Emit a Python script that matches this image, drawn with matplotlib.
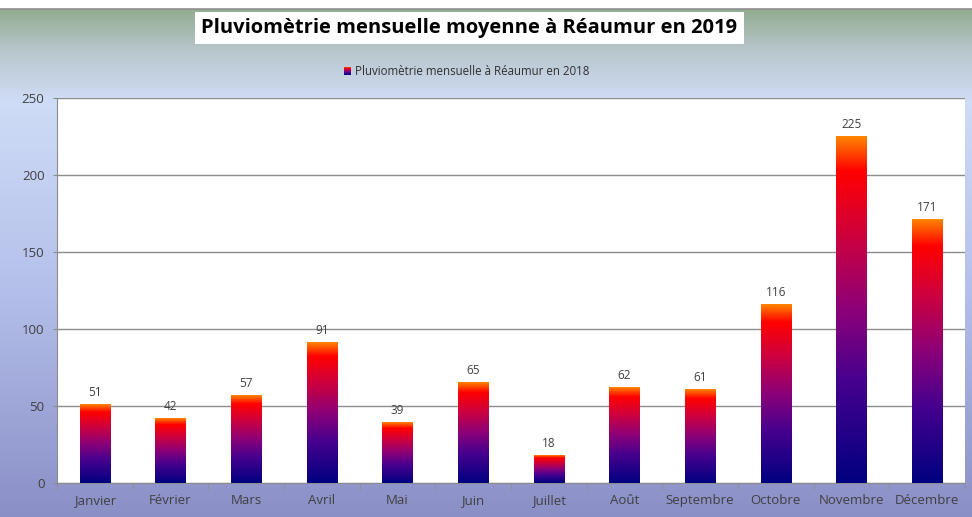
import matplotlib.pyplot as plt
import numpy as np
from matplotlib.colors import LinearSegmentedColormap

# --- Data (mm) ---
mois = ["Janvier", "Février", "Mars", "Avril", "Mai", "Juin", "Juillet",
        "Août", "Septembre", "Octobre", "Novembre", "Décembre"]
pluie = [51, 42, 57, 91, 39, 65, 18, 62, 61, 116, 225, 171]
yticks = [0, 50, 100, 150, 200, 250]

plt.rcParams["font.family"] = ["Open Sans", "DejaVu Sans"]

fig = plt.figure(figsize=(9.72, 5.17), dpi=100)
fig.patch.set_facecolor("white")

# background gradient (green-grey -> light blue -> lavender)
bg = fig.add_axes([0, 0, 1, 1 - 9 / 517], zorder=0)
bg_cmap = LinearSegmentedColormap.from_list(
    "bg", [(0.0, "#8a8fc6"), (0.45, "#b4c0ea"), (0.82, "#cfdcf6"),
           (0.92, "#b8c6cc"), (1.0, "#92ad90")])
bg.imshow(np.linspace(0, 1, 256).reshape(-1, 1), cmap=bg_cmap, aspect="auto",
          origin="lower", extent=(0, 1, 0, 1))
bg.set_axis_off()
fig.add_artist(plt.Line2D([0, 1], [1 - 9 / 517] * 2, color="#909090", lw=1.2))

ax = fig.add_axes([57 / 972, 1 - 483 / 517, 908 / 972, 385 / 517], zorder=1)
ax.set_facecolor("white")

x = np.arange(len(mois))
bars = ax.bar(x, pluie, width=0.4, facecolor="none", edgecolor="none", zorder=3)

bar_cmap = LinearSegmentedColormap.from_list(
    "bar", [(0.0, "#000080"), (0.3, "#48008e"), (0.5, "#8c0078"),
            (0.72, "#d0003c"), (0.9, "#ff0000"), (1.0, "#ff8400")])
grad = np.linspace(0, 1, 256).reshape(-1, 1)
for b, v in zip(bars, pluie):
    x0 = b.get_x()
    ax.imshow(grad, cmap=bar_cmap, aspect="auto", origin="lower",
              extent=(x0, x0 + b.get_width(), 0, v), zorder=3)
    ax.annotate(f"{v}", (b.get_x() + b.get_width() / 2, v), xytext=(0, 4),
                textcoords="offset points", ha="center", va="bottom",
                fontsize=8.5, color="#404040")

ax.set_xlim(-0.5, len(mois) - 0.5)
ax.set_ylim(0, 250)
ax.set_yticks(yticks)
ax.yaxis.grid(True, color="#8c8c8c", lw=1)
ax.set_axisbelow(True)
ax.set_xticks(x)
ax.set_xticklabels(mois, fontsize=9.5, color="#404040")
ax.set_xticks(np.arange(-0.5, len(mois)), minor=True)
ax.tick_params(axis="x", which="major", length=0, pad=8)
ax.tick_params(axis="x", which="minor", length=4, color="#8c8c8c")
ax.tick_params(axis="y", length=3, color="#8c8c8c", labelsize=9.5,
               labelcolor="#404040", pad=6)
for s in ["top", "right"]:
    ax.spines[s].set_visible(False)
for s in ["left", "bottom"]:
    ax.spines[s].set_color("#8c8c8c")

# title in white box
fig.text(0.483, 1 - 28 / 517, "Pluviomètrie mensuelle moyenne à Réaumur en 2019",
         ha="center", va="center", fontsize=14.5, fontweight="bold", color="black",
         bbox=dict(boxstyle="square,pad=0.3", facecolor="white", edgecolor="none"),
         zorder=5)

# legend
lx, ly = 347 / 972, 1 - 71 / 517
sq = fig.add_axes([lx - 3 / 972, ly - 4 / 517, 7 / 972, 8 / 517], zorder=5)
sq.imshow(grad, cmap=bar_cmap, aspect="auto", origin="lower")
sq.set_axis_off()
fig.text(lx + 8 / 972, ly, "Pluviomètrie mensuelle à Réaumur en 2018",
         ha="left", va="center", fontsize=8.3, color="#303030", zorder=5)

fig.savefig("out.png", dpi=100, facecolor="white")
